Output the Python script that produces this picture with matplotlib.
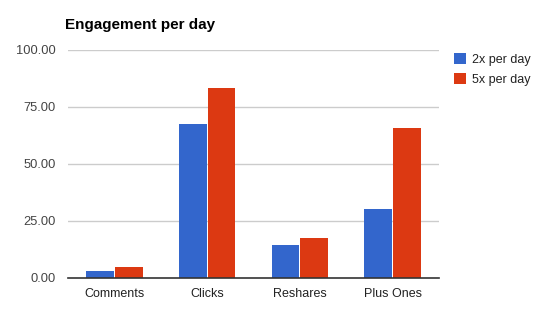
import matplotlib
matplotlib.use("Agg")
import matplotlib.pyplot as plt
import numpy as np
from matplotlib.patches import Patch

categories = ["Comments", "Clicks", "Reshares", "Plus Ones"]
series_names = ["2x per day", "5x per day"]
values_2x = [3.1, 67.5, 14.5, 30.3]
values_5x = [4.8, 83.3, 17.5, 65.7]
yticks = [0, 25, 50, 75, 100]
ytick_labels = ["0.00", "25.00", "50.00", "75.00", "100.00"]

colors = ["#3366CC", "#DC3912"]
plt.rcParams['font.family'] = ['Liberation Sans', 'DejaVu Sans']

fig = plt.figure(figsize=(5.46, 3.23), dpi=100)
ax = fig.add_axes([68/546, 1-278/323, (439-68)/546, (278-50)/323])

x = np.arange(len(categories))
w = 0.30
off = 0.155
ax.bar(x - off, values_2x, width=w, color=colors[0], zorder=3)
ax.bar(x + off, values_5x, width=w, color=colors[1], zorder=3)

ax.set_xlim(-0.5, len(categories) - 0.5)
ax.set_ylim(0, 100)
ax.set_yticks(yticks)
ax.set_yticklabels(ytick_labels, color="#444444", fontsize=9.3)
ax.set_xticks(x)
ax.set_xticklabels(categories, color="#222222", fontsize=9)
ax.tick_params(axis='both', length=0)
ax.tick_params(axis='y', pad=9)
ax.tick_params(axis='x', pad=7)
for yv in yticks[1:]:
    ax.axhline(yv, color="#CCCCCC", linewidth=1, zorder=1)
for s in ["top", "right", "left"]:
    ax.spines[s].set_visible(False)
ax.spines["bottom"].set_color("#333333")
ax.spines["bottom"].set_linewidth(1.2)
ax.spines["bottom"].set_zorder(4)

fig.text(65/546, 1-25/323, "Engagement per day", fontsize=11, fontweight="bold",
         color="#000000", va="center", ha="left")

handles = [Patch(facecolor=c, edgecolor='none') for c in colors]
fig.legend(handles, series_names, loc="upper left",
           bbox_to_anchor=(449/546, 1-48/323), frameon=False,
           fontsize=9, handlelength=0.95, handleheight=0.95,
           handletextpad=0.45, labelspacing=0.6, labelcolor="#222222",
           borderaxespad=0)

fig.savefig("out.png", dpi=100)
